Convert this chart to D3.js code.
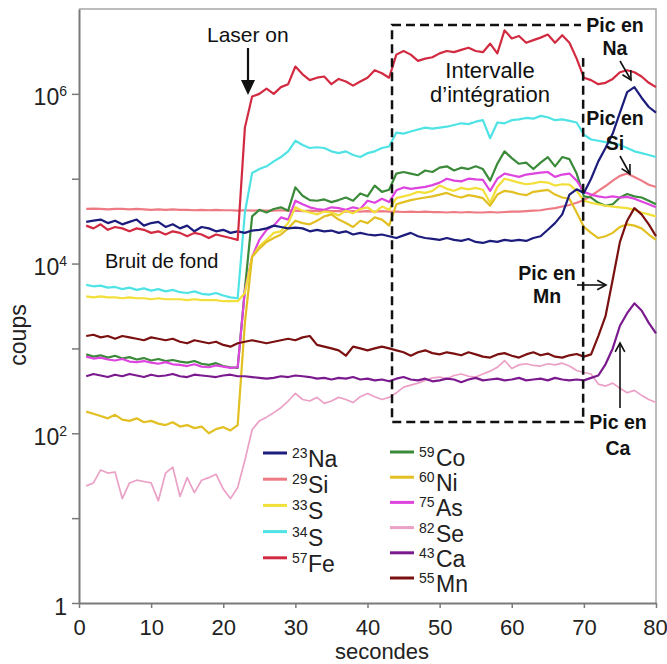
<!DOCTYPE html>
<html><head><meta charset="utf-8">
<script src="https://cdn.jsdelivr.net/npm/d3@7"></script>
<style>
body{margin:0;background:#fff}
svg{display:block}
text{font-family:"Liberation Sans",Arial,Helvetica,sans-serif}
</style>
</head><body>
<svg id="c" width="667" height="664"></svg>
<script>
// ---------- DATA ----------
const time = [1,2,3,4,5,6,7,8,9,10,11,12,13,14,15,16,17,18,19,20,
  21,22,23,24,25,26,27,28,29,30,31,32,33,34,35,36,37,38,39,40,
  41,42,43,44,45,46,47,48,49,50,51,52,53,54,55,56,57,58,59,60,
  61,62,63,64,65,66,67,68,69,70,71,72,73,74,75,76,77,78,79,80];

const na23 = [31000,32000,33000,30000,32000,29000,31000,33000,28000,30000,
  31000,27000,29000,26000,28000,24000,27000,26000,24000,25000,
  23000,24000,23000,24500,25000,26000,28000,27000,26000,26500,
  26000,24000,25000,24000,24500,23000,24000,22000,23000,22000,
  21500,22000,21000,20000,21500,23000,21000,20000,19500,19000,
  20000,19000,18500,19500,18000,17500,18500,18000,19000,18500,
  19000,18500,20000,21000,25000,30000,38000,65000,75000,68000,
  100000,160000,230000,340000,600000,1050000,1200000,900000,700000,600000];

const si29 = [44000,44500,44000,43500,44000,44000,43500,44000,43500,43000,
  43500,43000,43500,43000,43000,42500,43000,42500,43000,42500,
  42500,42000,42500,42000,42500,42000,42000,42500,42000,42000,
  41500,42000,41500,42000,41500,41500,41000,41500,41000,41500,
  41000,41500,41000,41000,40500,41000,40500,41000,40500,40500,
  40000,40500,40000,40500,40000,40000,40500,40000,40500,41000,
  41000,41500,42000,42500,44000,45000,47000,49000,52000,56000,
  63000,72000,82000,95000,108000,115000,105000,95000,85000,80000];

const s33 = [4100,4000,4100,4000,4000,3900,4000,3900,3900,3800,
  3900,3800,3800,3800,3700,3800,3700,3700,3700,3600,
  3600,3600,4500,12000,16000,19000,23000,24000,30000,46000,
  42000,40000,38000,41000,40000,37000,42000,39000,44000,46000,
  40000,47000,43000,59000,62000,65000,70000,68000,72000,83000,
  76000,72000,78000,75000,78000,74000,52000,80000,100000,95000,
  90000,86000,88000,92000,90000,83000,86000,85000,72000,55000,
  52000,50000,48000,47000,46000,45000,43000,40000,38000,36000];

const s34 = [5600,5400,5500,5200,5300,5000,5200,4900,5100,4800,
  5000,4700,4900,4600,4500,4700,4400,4300,4500,4200,
  4000,3900,40000,117000,130000,140000,160000,180000,210000,280000,
  250000,230000,235000,230000,210000,200000,210000,190000,180000,200000,
  210000,230000,240000,350000,340000,360000,380000,400000,390000,400000,
  410000,430000,450000,440000,470000,490000,300000,460000,450000,490000,
  500000,520000,510000,550000,530000,490000,500000,480000,460000,330000,
  290000,280000,270000,260000,250000,230000,210000,200000,190000,180000];

const fe57 = [28000,26000,29000,25000,27000,26000,24000,26000,25000,23000,
  24000,22000,24000,23000,21000,23000,22000,20000,22000,21000,
  20000,19000,400000,930000,1000000,1150000,1000000,1200000,1300000,2100000,
  1700000,1450000,1550000,1600000,1300000,1500000,1400000,1250000,1400000,1550000,
  1900000,1750000,1550000,2900000,3200000,2900000,2450000,2600000,2700000,3000000,
  3200000,3100000,3300000,3500000,3200000,3100000,3900000,3000000,5600000,4500000,
  4800000,4000000,4300000,4600000,5000000,4000000,4900000,4000000,2600000,1550000,
  1450000,1300000,1350000,1500000,1800000,1900000,1800000,1600000,1350000,1200000];

const co59 = [850,800,830,780,820,760,790,740,770,720,
  750,710,730,700,680,710,660,640,670,620,
  600,590,5000,36000,43000,40000,44000,46000,42000,79000,
  63000,56000,55000,57000,53000,56000,60000,55000,67000,62000,
  83000,70000,74000,115000,120000,115000,110000,125000,120000,135000,
  140000,125000,135000,130000,140000,130000,95000,150000,210000,175000,
  150000,155000,130000,155000,180000,140000,180000,170000,115000,62000,
  60000,52000,48000,50000,60000,66000,62000,60000,55000,50000];

const ni60 = [180,170,160,150,165,145,140,150,135,140,
  130,125,135,120,125,115,120,100,112,118,
  108,125,2000,12000,15000,18000,20000,22000,26000,32000,
  30000,29000,32000,36000,38000,33000,30000,27000,32000,30000,
  35000,33000,28000,50000,53000,56000,58000,60000,62000,65000,
  68000,63000,60000,64000,62000,59000,48000,65000,72000,70000,
  66000,64000,70000,72000,74000,65000,60000,58000,40000,27000,
  23000,20000,21000,23000,27000,29000,28000,26000,22000,19000];

const as75 = [800,760,780,740,720,750,700,690,710,680,
  660,690,650,640,620,650,610,600,630,610,
  590,600,4800,12000,19000,25000,28000,35000,33000,55000,
  50000,46000,44000,43000,46000,45000,43000,46000,44000,55000,
  52000,58000,53000,73000,79000,76000,78000,80000,84000,90000,
  100000,95000,93000,100000,98000,97000,72000,100000,115000,110000,
  105000,112000,115000,118000,120000,105000,112000,115000,95000,70000,
  65000,62000,60000,62000,60000,61000,58000,54000,50000,46000];

const se82 = [24,26,37,34,35,17,26,28,27,26,
  16,34,40,18,30,20,28,30,33,22,
  17,23,48,110,140,155,175,200,240,295,
  250,240,265,225,240,265,250,230,270,295,
  270,250,265,300,350,370,390,420,450,460,
  440,480,500,470,460,500,540,600,720,580,
  640,660,630,620,660,640,670,620,550,520,
  500,380,360,390,340,300,320,280,250,230];

const ca43 = [470,500,480,460,490,470,500,480,460,490,
  470,480,500,470,460,490,480,470,460,480,
  490,470,470,460,450,440,450,470,460,480,
  470,460,440,450,430,450,440,460,430,440,
  420,430,410,440,460,430,420,440,410,420,
  440,430,400,430,450,420,430,440,420,430,
  450,420,430,440,420,450,430,420,430,420,
  450,480,650,1000,1850,2600,3400,2800,2000,1500];

const mn55 = [1400,1450,1350,1400,1300,1400,1350,1300,1250,1350,
  1300,1250,1300,1200,1150,1250,1200,1150,1200,1100,
  1050,1150,1200,1250,1200,1150,1200,1250,1300,1250,
  1350,1400,1100,1050,1000,950,820,1050,1000,950,
  1000,1050,1000,950,900,820,900,950,880,850,
  900,870,830,900,850,800,780,850,880,820,
  780,850,900,830,870,800,780,830,860,800,
  850,1400,2400,6500,18000,32000,45000,38000,29000,21000];

const masses   = ["23","29","33","34","57","59","60","75","82","43","55"];
const elements = ["Na","Si","S","S","Fe","Co","Ni","As","Se","Ca","Mn"];
const colors   = ["#1c1c7c","#ee7a84","#f2df3a","#4fe3e6","#d22a40","#3a8a3a","#e2bf22","#de44de","#eba0c6","#7a1a8e","#7a1010"];
const seriesValues = [na23, si29, s33, s34, fe57, co59, ni60, as75, se82, ca43, mn55];
const drawOrder = [8,1,5,7,2,6,3,10,9,0,4];

const xTicks = [0,10,20,30,40,50,60,70,80];
const yTicks = [1,10,100,1000,10000,100000,1000000];
const yTickBase = ["1","","10","","10","","10"];
const yTickExp  = ["","","2","","4","","6"];
const integration = [43.4, 69.9];

// ---------- CHART ----------
const W = 667, H = 664, m = {l:79, t:9, r:11, b:61};
const svg = d3.select("#c");
const x = d3.scaleLinear().domain([0,80]).range([m.l, W - m.r]);
const y = d3.scaleLog().domain([1,1e7]).range([H - m.b, m.t]);

// frame (top and right)
svg.append("path")
  .attr("d", `M${x(0)},${y(1e7)}H${x(80)}V${y(1)}`)
  .attr("fill","none").attr("stroke","#a6a6a6").attr("stroke-width",1.5);

// series
const line = d3.line().x((d,i) => x(time[i])).y(d => y(d));
drawOrder.forEach(k => {
  svg.append("path").datum(seriesValues[k])
    .attr("d", line)
    .attr("fill","none")
    .attr("stroke", colors[k])
    .attr("stroke-width", k === 8 ? 1.7 : 2.2)
    .attr("stroke-linejoin","round");
});

// axes
const gx = svg.append("g").attr("transform", `translate(0,${y(1)})`)
  .call(d3.axisBottom(x).tickValues(xTicks).tickSize(5).tickSizeOuter(0));
gx.select(".domain").attr("stroke","#7a7a7a").attr("stroke-width",2);
gx.selectAll(".tick line").attr("stroke","#7a7a7a").attr("stroke-width",1.5);
gx.selectAll(".tick text").attr("font-size",22).attr("fill","#222")
  .attr("dy",0).attr("y",32).style("font-family",'"Liberation Sans",Arial,sans-serif');
gx.selectAll(".tick text").filter(d => d === 80).attr("dx",-1);

const gy = svg.append("g").attr("transform", `translate(${x(0)},0)`)
  .call(d3.axisLeft(y).tickValues(yTicks).tickSize(7).tickSizeOuter(0).tickFormat(() => ""));
gy.select(".domain").attr("stroke","#7a7a7a").attr("stroke-width",2);
gy.selectAll(".tick line").attr("stroke","#7a7a7a").attr("stroke-width",1.5);
gy.selectAll(".tick").each(function(d){
  const i = yTicks.indexOf(d);
  const t = d3.select(this).select("text");
  if (!yTickBase[i]) return;
  t.text(null).attr("dy",0).attr("y",11).attr("x",-12)
    .attr("font-size",23).attr("fill","#222").attr("text-anchor","end")
    .style("font-family",'"Liberation Sans",Arial,sans-serif');
  t.append("tspan").text(yTickBase[i]);
  if (yTickExp[i]) t.append("tspan").attr("font-size",14).attr("dy",-9).text(yTickExp[i]);
});

// axis titles
svg.append("text").attr("x",382).attr("y",659).attr("text-anchor","middle")
  .attr("font-size",22).attr("fill","#222").text("secondes");
svg.append("text").attr("transform","translate(26,335) rotate(-90)").attr("text-anchor","middle")
  .attr("font-size",23).attr("fill","#222").text("coups");

// integration interval box
svg.append("rect")
  .attr("x", x(integration[0])).attr("y", 25)
  .attr("width", x(integration[1]) - x(integration[0])).attr("height", 397)
  .attr("fill","none").attr("stroke","#111").attr("stroke-width",2.5)
  .attr("stroke-dasharray","9,5");

// white backing for the "Pic en Na" label (drawn before the texts)
svg.append("rect").attr("x",581).attr("y",12).attr("width",70).attr("height",46).attr("fill","#fff");

// annotations
const ann = svg.append("g").attr("fill","#111");
function txt(s, xx, yy, opts={}) {
  return ann.append("text").attr("x",xx).attr("y",yy)
    .attr("font-size",opts.size || 20)
    .attr("font-weight",opts.bold ? "bold" : "normal")
    .attr("text-anchor",opts.anchor || "start").text(s);
}
function arrow(x1,y1,x2,y2,w=1.6) {
  const g = svg.append("g").attr("stroke","#111").attr("stroke-width",w).attr("fill","none");
  g.append("line").attr("x1",x1).attr("y1",y1).attr("x2",x2).attr("y2",y2);
  const a = Math.atan2(y2-y1, x2-x1), L = 10, s = 0.5;
  g.append("path").attr("d",
    `M${x2 - L*Math.cos(a - s)},${y2 - L*Math.sin(a - s)}L${x2},${y2}L${x2 - L*Math.cos(a + s)},${y2 - L*Math.sin(a + s)}`);
}

txt("Laser on", 207, 42, {size:21});
svg.append("line").attr("x1",248).attr("y1",48).attr("x2",248).attr("y2",82)
  .attr("stroke","#111").attr("stroke-width",2.2);
svg.append("path").attr("d","M241,80L255,80L248,95Z").attr("fill","#111");

txt("Intervalle", 490, 78, {size:22, anchor:"middle"});
txt("d\u2019intégration", 490, 102, {size:22, anchor:"middle"});
txt("Bruit de fond", 105, 268, {size:20});

txt("Pic en", 615, 32, {size:19.5, bold:true, anchor:"middle"});
txt("Na", 615, 55, {size:19.5, bold:true, anchor:"middle"});
arrow(620, 61, 631, 80);

txt("Pic en", 615, 125, {size:19.5, bold:true, anchor:"middle"});
txt("Si", 615, 150, {size:19.5, bold:true, anchor:"middle"});
arrow(620, 156, 630, 174);

txt("Pic en", 547, 280, {size:19.5, bold:true, anchor:"middle"});
txt("Mn", 547, 303, {size:19.5, bold:true, anchor:"middle"});
arrow(577, 285, 606, 285);

txt("Pic en", 618, 429, {size:19.5, bold:true, anchor:"middle"});
txt("Ca", 618, 455, {size:19.5, bold:true, anchor:"middle"});
arrow(620, 408, 620, 343);

// legend
const legCols = [
  {idx:[0,1,2,3,4], sx:263, tx:292, mx:308, y0:453, dy:26.2},
  {idx:[5,6,7,8,9,10], sx:390, tx:419, mx:436, y0:452, dy:25.2}
];
legCols.forEach(c => {
  c.idx.forEach((k,j) => {
    const yy = c.y0 + j*c.dy;
    svg.append("line").attr("x1",c.sx).attr("x2",c.sx+24).attr("y1",yy).attr("y2",yy)
      .attr("stroke",colors[k]).attr("stroke-width",3);
    svg.append("text").attr("x",c.tx).attr("y",yy+5).attr("font-size",14).attr("fill","#222").text(masses[k]);
    svg.append("text").attr("x",c.mx).attr("y",yy+14).attr("font-size",23).attr("fill","#222").text(elements[k]);
  });
});
</script>
</body></html>
